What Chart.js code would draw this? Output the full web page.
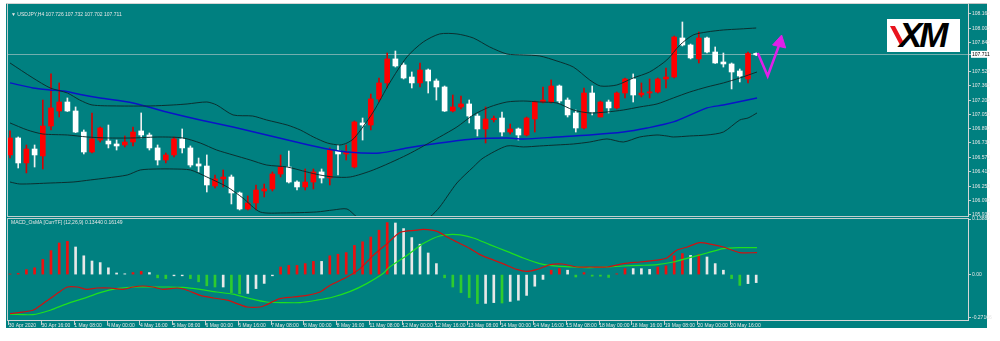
<!DOCTYPE html>
<html><head><meta charset="utf-8">
<script src="https://cdn.jsdelivr.net/npm/chart.js@4.4.1/dist/chart.umd.min.js"></script>
<style>
html,body{margin:0;padding:0;background:#fff;width:1000px;height:341px;overflow:hidden;}
#bg{position:absolute;left:6px;top:3px;width:981px;height:325px;background:#008080;border-top:1px solid #c4c4c4;box-sizing:border-box;}
canvas{position:absolute;left:0;}
#c1{top:0;}
#c2{top:216px;}
.lbl{position:absolute;font-family:"Liberation Sans",Arial,sans-serif;font-size:5px;line-height:6px;color:#e6e6e6;white-space:nowrap;}
#logo{position:absolute;left:887px;top:19px;width:73px;height:33px;background:#fff;overflow:hidden;}
#logo .red{position:absolute;left:8px;top:7px;width:5px;height:19px;background:#e8141e;transform:skewX(28deg);}
#logo .txt{position:absolute;left:12px;top:-3px;font-family:"Liberation Sans",Arial,sans-serif;font-weight:bold;font-style:italic;font-size:35px;letter-spacing:-3px;color:#000;line-height:38px;}
</style></head>
<body>
<div id="bg"></div>
<canvas id="c1" width="1000" height="218"></canvas>
<canvas id="c2" width="1000" height="125"></canvas>
<div class="lbl" style="left:11px;top:11px;">▼ USDJPY,H4 107.726 107.732 107.702 107.711</div>
<div class="lbl" style="left:11px;top:219px;">MACD_OsMA [CurrTF] (12,26,9) 0.13440 0.16149</div>
<div id="logo"><div class="red"></div><div class="txt">XM</div></div>
<script>
// ---------- DATA ----------
const opens = [
106.597,106.786,106.508,106.663,106.586,106.919,107.086,107.186,107.086,106.852,
106.630,106.763,106.752,106.719,106.708,106.741,106.864,106.819,106.675,106.541,
106.597,106.775,106.675,106.497,106.474,106.252,106.330,106.352,106.174,105.996,
106.063,106.196,106.219,106.385,106.463,106.296,106.241,106.296,106.408,106.341,
106.641,106.608,106.463,106.953,106.930,107.220,107.398,107.665,107.598,107.464,
107.398,107.542,107.420,107.353,107.086,107.131,107.164,107.030,106.886,106.990,
107.008,106.852,106.886,106.819,106.997,107.186,107.186,107.364,107.208,107.064,
106.897,107.286,107.019,107.186,107.120,107.286,107.442,107.264,107.286,107.297,
107.442,107.464,107.898,107.820,107.665,107.898,107.742,107.631,107.609,107.531,
107.442,107.726];
const highs = [
106.864,106.797,106.708,106.708,107.208,107.498,107.398,107.231,107.131,106.875,
107.064,106.908,106.930,106.763,106.808,106.908,107.064,106.841,106.708,106.619,
106.797,106.886,106.697,106.563,106.597,106.374,106.430,106.374,106.185,106.141,
106.263,106.274,106.408,106.597,106.641,106.308,106.441,106.441,106.441,106.675,
106.708,106.708,106.975,107.008,107.275,107.453,107.731,107.753,107.620,107.520,
107.620,107.553,107.442,107.364,107.264,107.253,107.208,107.053,107.131,107.030,
107.075,106.941,106.897,107.019,107.197,107.353,107.431,107.375,107.231,107.097,
107.342,107.364,107.197,107.208,107.297,107.453,107.498,107.398,107.442,107.453,
107.564,107.920,108.076,107.831,107.965,107.909,107.798,107.731,107.620,107.553,
107.742,107.732];
const lows = [
106.563,106.452,106.397,106.463,106.441,106.875,107.019,107.080,106.845,106.608,
106.620,106.741,106.675,106.652,106.686,106.697,106.786,106.652,106.485,106.508,
106.574,106.619,106.463,106.408,106.185,106.230,106.241,106.052,105.985,105.985,
105.985,106.130,106.196,106.352,106.285,106.207,106.207,106.219,106.285,106.263,
106.374,106.541,106.452,106.763,106.875,107.186,107.342,107.575,107.442,107.342,
107.353,107.286,107.208,107.080,107.075,107.109,106.953,106.808,106.730,106.964,
106.808,106.830,106.763,106.808,106.852,107.175,107.175,107.175,107.019,106.852,
106.886,107.042,107.019,107.064,107.109,107.231,107.186,107.242,107.231,107.286,
107.342,107.453,107.809,107.665,107.620,107.731,107.615,107.575,107.331,107.409,
107.398,107.702];
const closes = [
106.786,106.508,106.663,106.597,106.919,107.120,107.186,107.086,106.852,106.630,
106.775,106.897,106.719,106.697,106.741,106.852,106.819,106.675,106.541,106.597,
106.775,106.675,106.485,106.474,106.263,106.330,106.352,106.174,105.996,106.063,
106.207,106.219,106.385,106.463,106.296,106.241,106.296,106.408,106.341,106.652,
106.608,106.630,106.964,106.930,107.220,107.398,107.665,107.587,107.453,107.398,
107.542,107.420,107.353,107.086,107.131,107.164,107.030,106.886,106.997,106.995,
106.852,106.886,106.819,107.008,107.186,107.208,107.364,107.197,107.042,106.897,
107.286,107.075,107.186,107.120,107.286,107.442,107.264,107.286,107.297,107.442,
107.464,107.909,107.820,107.676,107.898,107.742,107.620,107.609,107.520,107.475,
107.726,107.711];

// Bollinger bands and moving average: [barIndex, price]
const bbUpper = [[0,107.620],[2.8,107.453],[4.9,107.342],[7.0,107.286],[8.5,107.208],[10.0,107.153],[13.0,107.142],[17.1,107.142],[19.9,107.153],[21.6,107.164],[24.0,107.186],[25.2,107.153],[27.2,107.042],[29.6,107.030],[31.3,106.986],[33.8,106.930],[35.4,106.875],[37.0,106.797],[38.7,106.730],[40.2,106.708],[41.1,106.730],[42.0,106.786],[44.3,107.075],[46.3,107.398],[48.4,107.687],[50.4,107.854],[52.4,107.943],[54.5,107.943],[56.5,107.898],[58.5,107.798],[60.6,107.720],[62.6,107.709],[64.6,107.698],[66.7,107.642],[68.7,107.575],[70.7,107.431],[72.0,107.364],[74.0,107.375],[76.0,107.453],[78.0,107.520],[80.1,107.653],[81.7,107.820],[83.3,107.931],[85.0,107.965],[87.0,107.987],[89.0,107.998],[91.0,108.009]];
const bbMiddle = [[0,106.953],[2.1,106.875],[4.0,106.830],[7.0,106.819],[9.4,106.797],[11.8,106.786],[15.0,106.786],[18.3,106.797],[21.1,106.786],[23.2,106.730],[25.2,106.652],[27.2,106.597],[29.3,106.541],[31.3,106.485],[33.8,106.463],[36.2,106.408],[37.8,106.374],[39.4,106.352],[41.5,106.352],[44.3,106.430],[48.4,106.597],[52.4,106.797],[54.5,106.908],[56.5,107.042],[58.5,107.131],[60.6,107.186],[62.6,107.197],[64.6,107.186],[66.7,107.175],[68.7,107.097],[70.7,107.064],[72.8,107.075],[74.8,107.097],[76.8,107.131],[78.9,107.164],[80.9,107.231],[82.9,107.297],[85.0,107.353],[87.0,107.398],[89.0,107.453],[91.1,107.520]];
const bbLower = [[0,106.296],[1.2,106.274],[4.9,106.285],[7.7,106.296],[9.8,106.319],[11.8,106.341],[14.3,106.374],[15.9,106.430],[17.9,106.441],[19.9,106.441],[22.0,106.430],[24.0,106.352],[26.5,106.241],[28.4,106.118],[30.5,105.963],[33.3,105.952],[37.4,105.963],[39.4,105.985],[41.1,105.996],[42.3,105.907],[44.5,105.785],[47.0,105.762],[49.4,105.829],[51.2,105.907],[52.4,106.018],[54.5,106.285],[56.5,106.463],[57.7,106.563],[60.6,106.697],[62.6,106.686],[64.6,106.697],[66.7,106.708],[68.7,106.719],[70.7,106.741],[72.8,106.775],[74.8,106.741],[76.8,106.797],[78.9,106.819],[80.1,106.808],[80.9,106.797],[82.9,106.808],[85.0,106.819],[87.0,106.852],[89.0,106.986],[90.0,107.008],[91.1,107.064]];
const movingAvg = [[0,107.398],[2.8,107.342],[4.9,107.320],[6.5,107.308],[8.9,107.264],[11.0,107.231],[15.0,107.175],[19.1,107.075],[23.2,106.986],[27.2,106.908],[31.3,106.819],[35.4,106.730],[38.7,106.663],[41.1,106.630],[45.1,106.619],[48.4,106.675],[52.4,106.730],[56.5,106.775],[60.6,106.786],[62.6,106.775],[66.7,106.797],[70.7,106.819],[74.8,106.852],[77.7,106.897],[80.9,106.964],[85.0,107.120],[87.0,107.153],[91.1,107.231]];

// Forecast arrow drawn on the chart: [barIndex, price]
const arrowPath = [[91.2,107.731],[92.4,107.475],[93.8,107.820]];
const arrowHead = [[94.1,107.931],[93.0,107.820],[94.6,107.787],[94.1,107.931]];

const currentPrice = 107.711;
const priceTicks = [108.165,108.005,107.845,107.711,107.525,107.365,107.205,107.050,106.890,106.730,106.570,106.410,106.250,106.090,105.930];

// MACD_OsMA panel
const osma = [
0.001,0.003,0.0125,0.017,0.038,0.060,0.079,0.083,0.069,0.047,
0.034,0.030,0.017,0.004,0.002,0.005,0.008,0.005,-0.008,-0.010,
-0.003,-0.003,-0.010,-0.018,-0.028,-0.031,-0.031,-0.045,-0.048,-0.047,
-0.035,-0.022,-0.003,0.019,0.023,0.023,0.0275,0.033,0.033,0.047,
0.051,0.055,0.073,0.082,0.094,0.111,0.130,0.129,0.115,0.0925,
0.076,0.054,0.0275,-0.008,-0.031,-0.045,-0.0575,-0.0725,-0.072,-0.070,
-0.071,-0.067,-0.064,-0.052,-0.029,-0.012,0.011,0.015,0.011,-0.006,
0.005,-0.004,-0.004,-0.007,0.002,0.015,0.015,0.0148,0.013,0.019,
0.022,0.047,0.0525,0.048,0.050,0.044,0.0275,0.011,-0.010,-0.027,
-0.0225,-0.020];
const osmaKind = ['rrrrrrrr','wwwwwww','rr','w','gg','ww','gggg','w','gg','wwww','rrrrr','w','rrrrrrrr','wwwwww','ggggg','ww','g','wwwww','rr','w','g','r','ggg','rr','www','rrrr','w','r','www','gg','ww'].join('');
const macdLine = [[0,-0.0975],[2.8,-0.089],[4.0,-0.073],[4.9,-0.060],[5.9,-0.045],[7.0,-0.031],[8.2,-0.031],[9.4,-0.037],[10.6,-0.0335],[12.2,-0.0335],[13.8,-0.037],[15.0,-0.031],[16.2,-0.0285],[17.4,-0.031],[18.7,-0.037],[20.4,-0.0335],[21.6,-0.039],[23.2,-0.052],[24.8,-0.0585],[26.5,-0.064],[27.7,-0.0725],[28.9,-0.081],[30.5,-0.081],[31.3,-0.075],[32.9,-0.060],[34.5,-0.056],[36.2,-0.052],[37.8,-0.0435],[39.0,-0.027],[41.1,-0.006],[42.7,0.015],[44.3,0.048],[46.0,0.0775],[47.6,0.106],[49.6,0.111],[50.4,0.113],[52.1,0.108],[53.3,0.094],[54.5,0.0815],[56.1,0.065],[57.3,0.050],[58.5,0.040],[60.1,0.0275],[61.8,0.013],[63.0,0.008],[64.3,0.013],[65.9,0.025],[67.4,0.0265],[69.1,0.019],[70.7,0.019],[72.8,0.019],[74.8,0.0275],[76.8,0.0315],[78.9,0.036],[80.1,0.0415],[81.3,0.061],[82.6,0.069],[84.1,0.080],[85.7,0.075],[87.0,0.069],[89.0,0.055],[91.1,0.055]];
const signalLine = [[0,-0.099],[2.8,-0.100],[4.9,-0.089],[7.0,-0.0725],[8.9,-0.060],[11.0,-0.045],[13.0,-0.035],[15.0,-0.031],[17.1,-0.031],[19.1,-0.031],[21.1,-0.032],[23.2,-0.037],[25.2,-0.0435],[27.2,-0.049],[29.3,-0.060],[31.3,-0.0685],[33.3,-0.070],[35.4,-0.070],[37.4,-0.064],[39.4,-0.056],[41.5,-0.042],[43.5,-0.0225],[45.5,0.0025],[46.3,0.019],[48.4,0.048],[50.4,0.0775],[52.4,0.0965],[54.5,0.100],[56.5,0.0915],[58.5,0.075],[60.6,0.058],[62.6,0.0415],[64.6,0.0275],[66.7,0.021],[68.7,0.019],[70.7,0.0175],[72.8,0.019],[74.8,0.0215],[76.8,0.023],[78.9,0.025],[80.9,0.0315],[82.9,0.0425],[85.0,0.054],[87.0,0.065],[89.0,0.0675],[91.1,0.0675]];
const macdTickValues = [0.13886, 0, -0.107];
const macdTickLabels = ['0.13886', '0.00', '-0.27166'];

const timeLabels = ['30 Apr 2020','30 Apr 16:00','1 May 08:00','4 May 00:00','4 May 16:00','5 May 08:00','6 May 00:00','6 May 16:00','7 May 08:00','8 May 00:00','8 May 16:00','11 May 08:00','12 May 00:00','12 May 16:00','13 May 08:00','14 May 00:00','14 May 16:00','15 May 08:00','18 May 00:00','18 May 16:00','19 May 08:00','20 May 00:00','20 May 16:00'];
const barsPerLabel = 4;

// ---------- STYLE / LAYOUT ----------
const FONT = {family:'"Liberation Sans", Arial, sans-serif', size:5};
const TXT = '#e6e6e6';
const FRAME = 'rgba(215,215,215,0.9)';
const xMin = -0.244, xMax = 116.83;
const C_UP = '#ff0000', C_DN = '#ffffff';

const pts = arr => arr.map(p => ({x:p[0], y:p[1]}));
const idx = closes.map((_, i) => i);

const framePlugin = {
  id:'frame',
  afterDatasetsDraw(chart){
    const {ctx, chartArea:a} = chart;
    ctx.save();
    ctx.strokeStyle = FRAME; ctx.lineWidth = 1;
    ctx.strokeRect(Math.round(a.left)-0.5, Math.round(a.top)-0.5, Math.round(a.right-a.left)+1, Math.round(a.bottom-a.top)+1);
    ctx.restore();
  }
};

const lineDs = (label, data, color, width) => ({
  type:'line', label, data: pts(data), borderColor: color, borderWidth: width,
  pointRadius:0, tension:0.25, fill:false
});

Chart.defaults.font.family = FONT.family;
Chart.defaults.font.size = FONT.size;

new Chart(document.getElementById('c1'), {
  type:'bar',
  data:{
    datasets:[
      {type:'line', label:'arrowHead', data: pts(arrowHead), borderColor:'#e020e8', backgroundColor:'#e020e8', borderWidth:1, pointRadius:0, fill:'shape', tension:0},
      {type:'line', label:'arrow', data: pts(arrowPath), borderColor:'#e020e8', borderWidth:2.5, pointRadius:0, tension:0, fill:false},
      lineDs('BB upper', bbUpper, 'rgba(12,42,42,0.95)', 1),
      lineDs('BB middle', bbMiddle, 'rgba(12,42,42,0.95)', 1),
      lineDs('BB lower', bbLower, 'rgba(12,42,42,0.95)', 1),
      lineDs('MA', movingAvg, '#0a14c8', 1.4),
      {
        label:'body', grouped:false, barThickness:5, minBarLength:1.2,
        data: idx.map(i => ({x:i, y:[opens[i], closes[i]]})),
        backgroundColor: idx.map(i => closes[i] >= opens[i] ? C_UP : C_DN),
        borderWidth:0
      },
      {
        label:'wick', grouped:false, barThickness:1,
        data: idx.map(i => ({x:i, y:[lows[i], highs[i]]})),
        backgroundColor: idx.map(i => closes[i] >= opens[i] ? '#d80000' : '#f0f0f0'),
        borderWidth:0
      }
    ]
  },
  options:{
    responsive:false, animation:false, devicePixelRatio:1,
    layout:{padding:{left:8, top:4, right:0, bottom:2}},
    plugins:{legend:{display:false}, tooltip:{enabled:false}, title:{display:false}},
    scales:{
      x:{type:'linear', min:xMin, max:xMax, display:false, offset:false, grid:{offset:false}},
      y:{
        position:'right', min:105.918, max:108.276,
        afterBuildTicks: s => { s.ticks = priceTicks.map(v => ({value:v})); },
        afterFit: s => { s.width = 32; s.paddingTop = 0; s.paddingBottom = 0; },
        ticks:{
          autoSkip:false, padding:1, font:FONT,
          callback: v => Number(v).toFixed(3),
          color: c => (c.tick && c.tick.value === currentPrice) ? '#000' : TXT,
          showLabelBackdrop:true,
          backdropColor: c => (c.tick && c.tick.value === currentPrice) ? '#ffffff' : 'rgba(0,0,0,0)',
          backdropPadding:{left:1, right:2, top:1, bottom:0}
        },
        grid:{
          drawOnChartArea:true, offset:false,
          color: c => (c.tick && c.tick.value === currentPrice) ? 'rgba(190,205,205,0.6)' : 'rgba(0,0,0,0)',
          tickColor: FRAME, tickLength:3, lineWidth:1
        },
        border:{display:true, color:FRAME}
      }
    }
  },
  plugins:[framePlugin]
});

const osmaColor = k => k === 'r' ? '#ee1010' : (k === 'g' ? '#2ecc2e' : '#e8e8e8');

new Chart(document.getElementById('c2'), {
  type:'bar',
  data:{
    datasets:[
      lineDs('MACD', macdLine, '#d01010', 1.2),
      lineDs('Signal', signalLine, '#1ee01e', 1.2),
      {
        label:'OsMA', grouped:false, barThickness:2, minBarLength:0.6,
        data: idx.map(i => ({x:i, y:osma[i]})),
        backgroundColor: idx.map(i => osmaColor(osmaKind[i])),
        borderWidth:0
      }
    ]
  },
  options:{
    responsive:false, animation:false, devicePixelRatio:1,
    layout:{padding:{left:8, top:3, right:0, bottom:12}},
    plugins:{legend:{display:false}, tooltip:{enabled:false}},
    scales:{
      x:{
        type:'linear', min:xMin, max:xMax, offset:false,
        afterBuildTicks: s => { s.ticks = timeLabels.map((_, i) => ({value: i*barsPerLabel - 0.15})); },
        afterFit: s => { s.height = 9; s.paddingLeft = 0; s.paddingRight = 0; },
        ticks:{autoSkip:false, maxRotation:0, minRotation:0, align:'start', padding:-2.5, color:TXT, font:FONT,
               callback: (v, i) => timeLabels[i]},
        grid:{drawOnChartArea:false, offset:false, tickLength:5, tickColor:FRAME},
        border:{display:true, color:FRAME}
      },
      y:{
        position:'right', min:-0.1135, max:0.139,
        afterBuildTicks: s => { s.ticks = macdTickValues.map(v => ({value:v})); },
        afterFit: s => { s.width = 32; s.paddingTop = 0; s.paddingBottom = 0; },
        ticks:{autoSkip:false, padding:1, color:TXT, font:FONT, callback: (v, i) => macdTickLabels[i]},
        grid:{drawOnChartArea:false, offset:false, tickLength:3, tickColor:FRAME},
        border:{display:true, color:FRAME}
      }
    }
  },
  plugins:[framePlugin]
});
</script>
</body></html>
